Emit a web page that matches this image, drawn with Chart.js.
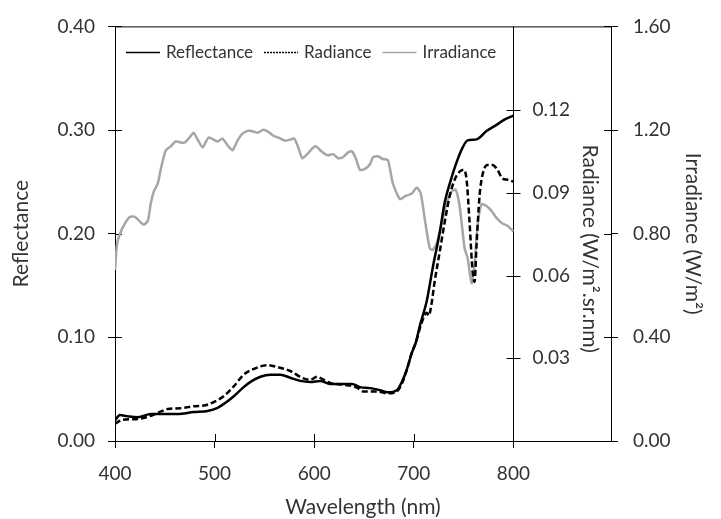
<!DOCTYPE html>
<html>
<head>
<meta charset="utf-8">
<script src="https://cdn.jsdelivr.net/npm/chart.js@4.4.1/dist/chart.umd.min.js"></script>
<style>
  body { margin: 0; background: #fff; }
  #wrap { width: 721px; height: 519px; }
</style>
</head>
<body>
<div id="wrap"><canvas id="spectra"></canvas></div>
<script>
// data
const wavelengthTicks = [400, 500, 600, 700, 800];
const radianceTicks = [0.03, 0.06, 0.09, 0.12];

const reflectanceWl = [400, 405, 412, 423, 436, 449, 463, 479, 493, 503, 511, 519, 528, 536, 546, 556, 566, 576, 586, 596, 606, 616, 626, 638, 646, 656, 666, 674, 683, 688, 693, 698, 702, 706, 713, 719, 726, 731, 736, 743, 749, 754, 763, 773, 783, 791, 800];
const reflectance = [0.020, 0.025, 0.024, 0.023, 0.026, 0.026, 0.026, 0.028, 0.029, 0.032, 0.037, 0.043, 0.051, 0.057, 0.062, 0.064, 0.064, 0.061, 0.058, 0.057, 0.058, 0.055, 0.055, 0.055, 0.052, 0.051, 0.049, 0.047, 0.049, 0.057, 0.069, 0.085, 0.095, 0.111, 0.135, 0.167, 0.201, 0.230, 0.248, 0.269, 0.283, 0.290, 0.291, 0.299, 0.305, 0.310, 0.314];

const radianceWl = [400, 408, 423, 433, 443, 453, 466, 479, 491, 499, 509, 519, 529, 539, 553, 563, 576, 588, 596, 603, 606, 616, 629, 643, 649, 663, 673, 683, 688, 693, 698, 702, 708, 713, 715, 717, 721, 726, 731, 736, 741, 746, 750, 753, 756, 759, 761, 763, 766, 769, 774, 779, 784, 789, 794, 800];
const radiance = [0.0063, 0.0077, 0.0080, 0.0088, 0.0102, 0.0116, 0.0119, 0.0126, 0.0130, 0.0141, 0.0162, 0.0197, 0.0240, 0.0261, 0.0275, 0.0268, 0.0254, 0.0229, 0.0222, 0.0233, 0.0229, 0.0211, 0.0204, 0.0194, 0.0180, 0.0180, 0.0173, 0.0180, 0.0208, 0.0258, 0.0320, 0.0357, 0.0430, 0.0465, 0.0455, 0.0480, 0.0580, 0.0686, 0.0793, 0.0888, 0.0948, 0.0977, 0.0984, 0.0948, 0.0793, 0.0616, 0.0577, 0.0711, 0.0888, 0.0966, 0.1001, 0.1001, 0.0984, 0.0952, 0.0948, 0.0941];

const irradianceWl = [400, 402, 405, 410, 415, 420, 426, 429, 433, 436, 439, 443, 446, 451, 456, 461, 466, 470, 474, 479, 483, 488, 494, 503, 508, 513, 518, 523, 528, 533, 536, 543, 549, 554, 559, 564, 571, 576, 580, 584, 588, 593, 598, 602, 606, 611, 614, 619, 624, 629, 634, 638, 642, 646, 651, 656, 659, 664, 669, 674, 679, 686, 691, 698, 703, 707, 711, 716, 719, 723, 728, 733, 738, 742, 746, 751, 754, 758, 761, 764, 768, 773, 778, 783, 789, 794, 800];
const irradiance = [0.66, 0.76, 0.80, 0.84, 0.865, 0.865, 0.843, 0.835, 0.850, 0.918, 0.963, 0.994, 1.050, 1.122, 1.137, 1.156, 1.152, 1.152, 1.167, 1.190, 1.163, 1.133, 1.171, 1.156, 1.167, 1.141, 1.122, 1.159, 1.186, 1.197, 1.197, 1.190, 1.201, 1.193, 1.178, 1.171, 1.159, 1.163, 1.167, 1.133, 1.091, 1.107, 1.129, 1.137, 1.122, 1.107, 1.103, 1.107, 1.091, 1.095, 1.114, 1.118, 1.088, 1.046, 1.050, 1.068, 1.095, 1.099, 1.088, 1.084, 0.994, 0.933, 0.944, 0.955, 0.978, 0.955, 0.857, 0.744, 0.737, 0.763, 0.839, 0.918, 0.963, 0.970, 0.907, 0.744, 0.707, 0.609, 0.681, 0.831, 0.914, 0.907, 0.888, 0.861, 0.839, 0.831, 0.809];

const toPoints = (xs, ys) => xs.map((x, i) => ({ x: x, y: ys[i] }));

const FONT = 'Lato';
const TEXT = '#333333';
const TICK = 7;

// ticks cross the axis lines, radiance axis sits at 800 nm, legend inside the plot
const extras = {
  id: 'extras',
  beforeDatasetsDraw(chart) {
    const { ctx, chartArea: a, scales } = chart;
    ctx.save();
    ctx.strokeStyle = '#000';
    ctx.lineWidth = 1;
    ctx.beginPath();
    ctx.moveTo(a.left, a.top + 0.5);
    ctx.lineTo(a.right, a.top + 0.5);
    scales.y.ticks.forEach(t => {
      const py = Math.round(scales.y.getPixelForValue(t.value)) + 0.5;
      ctx.moveTo(a.left, py); ctx.lineTo(a.left + TICK, py);
    });
    scales.yIrr.ticks.forEach(t => {
      const py = Math.round(scales.yIrr.getPixelForValue(t.value)) + 0.5;
      ctx.moveTo(a.right - TICK, py); ctx.lineTo(a.right, py);
    });
    scales.x.ticks.forEach(t => {
      const px = Math.round(scales.x.getPixelForValue(t.value)) + 0.5;
      ctx.moveTo(px, a.bottom - TICK); ctx.lineTo(px, a.bottom);
    });
    const xr = Math.round(scales.x.getPixelForValue(800)) + 0.5;
    ctx.moveTo(xr, a.top); ctx.lineTo(xr, a.bottom);
    radianceTicks.forEach(v => {
      const py = Math.round(scales.yRad.getPixelForValue(v)) + 0.5;
      ctx.moveTo(xr - TICK, py); ctx.lineTo(xr + TICK, py);
    });
    ctx.stroke();

    ctx.fillStyle = TEXT;
    ctx.font = '19px ' + FONT;
    ctx.textAlign = 'left';
    ctx.textBaseline = 'middle';
    radianceTicks.forEach(v => {
      ctx.fillText(v.toFixed(2), xr + 19, scales.yRad.getPixelForValue(v));
    });
    ctx.font = '21px ' + FONT;
    ctx.translate(xr + 76, (a.top + a.bottom) / 2 + 15);
    ctx.rotate(Math.PI / 2);
    ctx.textAlign = 'center';
    ctx.fillText('Radiance (W/m\u00B2.sr.nm)', 0, 0);
    ctx.restore();
  },
  afterDraw(chart) {
    const { ctx, chartArea: a } = chart;
    ctx.save();
    ctx.font = '17px ' + FONT;
    ctx.textBaseline = 'middle';
    ctx.textAlign = 'left';
    let x = a.left + 11;
    const y = a.top + 26;
    chart.data.datasets.forEach(ds => {
      ctx.beginPath();
      ctx.strokeStyle = ds.borderColor;
      ctx.lineWidth = 1.5;
      ctx.setLineDash(ds.borderDash ? [2, 1] : []);
      ctx.moveTo(x, y); ctx.lineTo(x + 34, y);
      ctx.stroke();
      ctx.setLineDash([]);
      ctx.fillStyle = TEXT;
      ctx.fillText(ds.label, x + 40, y);
      x += 40 + ctx.measureText(ds.label).width + 11;
    });
    ctx.restore();
  }
};

new Chart(document.getElementById('spectra'), {
  type: 'line',
  data: {
    datasets: [
      {
        label: 'Reflectance',
        data: toPoints(reflectanceWl, reflectance),
        borderColor: '#000000',
        borderWidth: 2.5,
        pointRadius: 0,
        cubicInterpolationMode: 'monotone',
        yAxisID: 'y'
      },
      {
        label: 'Radiance',
        data: toPoints(radianceWl, radiance),
        borderColor: '#000000',
        borderWidth: 2.5,
        borderDash: [6, 3],
        pointRadius: 0,
        cubicInterpolationMode: 'monotone',
        yAxisID: 'yRad'
      },
      {
        label: 'Irradiance',
        data: toPoints(irradianceWl, irradiance),
        borderColor: '#a6a6a6',
        borderWidth: 2.5,
        pointRadius: 0,
        tension: 0.2,
        yAxisID: 'yIrr'
      }
    ]
  },
  options: {
    responsive: true,
    maintainAspectRatio: false,
    animation: false,
    layout: { padding: { top: 16, left: 0, right: 0, bottom: 0 } },
    plugins: { legend: { display: false }, tooltip: { enabled: false } },
    scales: {
      x: {
        type: 'linear',
        min: 400,
        max: 898,
        afterBuildTicks: s => { s.ticks = wavelengthTicks.map(v => ({ value: v })); },
        afterFit: s => { s.height = 78; },
        grid: { drawOnChartArea: false, tickLength: TICK, color: '#000' },
        border: { color: '#000' },
        ticks: { color: TEXT, font: { family: FONT, size: 19 }, padding: 14, maxRotation: 0 },
        title: { display: true, text: 'Wavelength (nm)', color: TEXT, font: { family: FONT, size: 21, lineHeight: 1 }, padding: { top: 0, bottom: 1 } }
      },
      y: {
        position: 'left',
        min: 0,
        max: 0.4,
        ticks: { stepSize: 0.1, color: TEXT, font: { family: FONT, size: 19 }, padding: 13, callback: v => v.toFixed(2) },
        afterFit: s => { s.width = 115; },
        grid: { drawOnChartArea: false, tickLength: TICK, color: '#000' },
        border: { color: '#000' },
        title: { display: true, text: 'Reflectance', color: TEXT, font: { family: FONT, size: 21 }, padding: { top: 9, bottom: 0 } }
      },
      yRad: {
        display: false,
        min: 0,
        max: 0.1504
      },
      yIrr: {
        position: 'right',
        min: 0,
        max: 1.6,
        ticks: { stepSize: 0.4, color: TEXT, font: { family: FONT, size: 19 }, padding: 15, callback: v => v.toFixed(2) },
        afterFit: s => { s.width = 110; },
        grid: { drawOnChartArea: false, tickLength: TICK, color: '#000' },
        border: { color: '#000' },
        title: { display: true, text: 'Irradiance (W/m\u00B2)', color: TEXT, font: { family: FONT, size: 21 }, padding: { top: 16, bottom: 0 } }
      }
    }
  },
  plugins: [extras]
});
</script>
</body>
</html>
